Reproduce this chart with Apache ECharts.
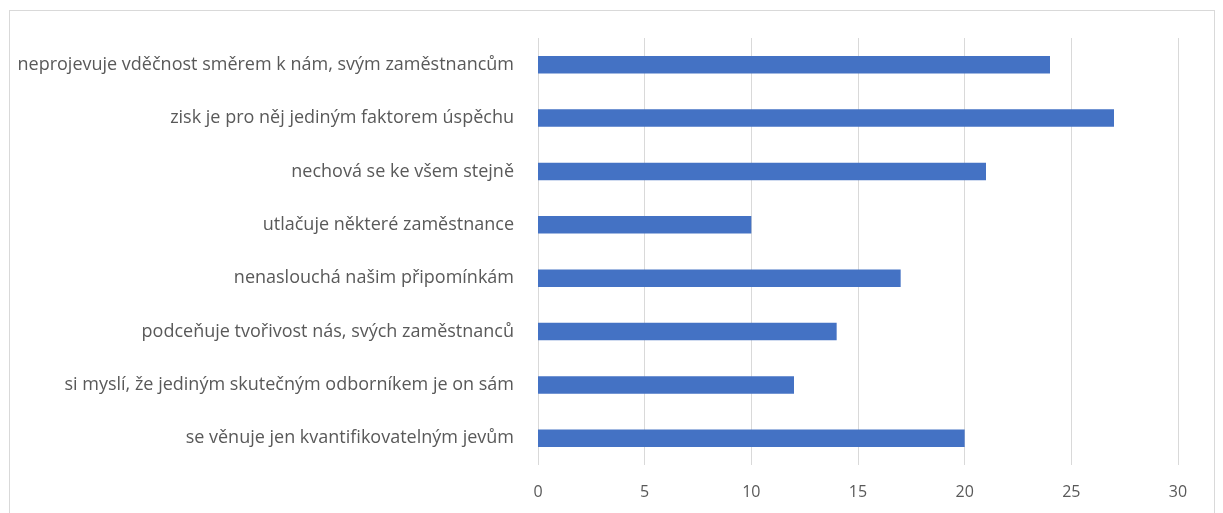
<!DOCTYPE html>
<html>
<head>
<meta charset="utf-8">
<script src="https://cdn.jsdelivr.net/npm/echarts@6/dist/echarts.min.js"></script>
<style>
  html, body { margin: 0; padding: 0; background: #fff; }
  #frame { position: absolute; left: 9px; top: 10px; width: 1206px; height: 510px; border: 1px solid #d9d9d9; box-sizing: border-box; }
  #chart { position: absolute; left: 0; top: 0; width: 1223px; height: 513px; }
</style>
</head>
<body>
<div id="frame"></div>
<div id="chart"></div>
<script>
// Categories listed bottom-to-top (ECharts category axis grows upward)
const categories = [
  'se věnuje jen kvantifikovatelným jevům',
  'si myslí, že jediným skutečným odborníkem je on sám',
  'podceňuje tvořivost nás, svých zaměstnanců',
  'nenaslouchá našim připomínkám',
  'utlačuje některé zaměstnance',
  'nechová se ke všem stejně',
  'zisk je pro něj jediným faktorem úspěchu',
  'neprojevuje vděčnost směrem k nám, svým zaměstnancům'
];
const counts = [20, 12, 14, 17, 10, 21, 27, 24];
const xTicks = [0, 5, 10, 15, 20, 25, 30];

const chart = echarts.init(document.getElementById('chart'), null, { renderer: 'canvas' });
const font = '"Open Sans", "Noto Sans", sans-serif';

chart.setOption({
  animation: false,
  grid: { left: 538, right: 45, top: 38, bottom: 48, containLabel: false },
  xAxis: {
    type: 'value',
    min: xTicks[0],
    max: xTicks[xTicks.length - 1],
    interval: xTicks[1] - xTicks[0],
    axisLine: { show: false },
    axisTick: { show: false },
    splitLine: { show: true, lineStyle: { color: '#d9d9d9', width: 1 } },
    axisLabel: { color: '#595959', fontFamily: font, fontSize: 16, margin: 19 }
  },
  yAxis: {
    type: 'category',
    data: categories,
    axisLine: { show: false },
    axisTick: { show: false },
    splitLine: { show: false },
    axisLabel: { color: '#595959', fontFamily: font, fontSize: 18, margin: 24 }
  },
  series: [{
    type: 'bar',
    data: counts,
    barCategoryGap: '67%',
    itemStyle: { color: '#4472c4' }
  }]
});
</script>
</body>
</html>
